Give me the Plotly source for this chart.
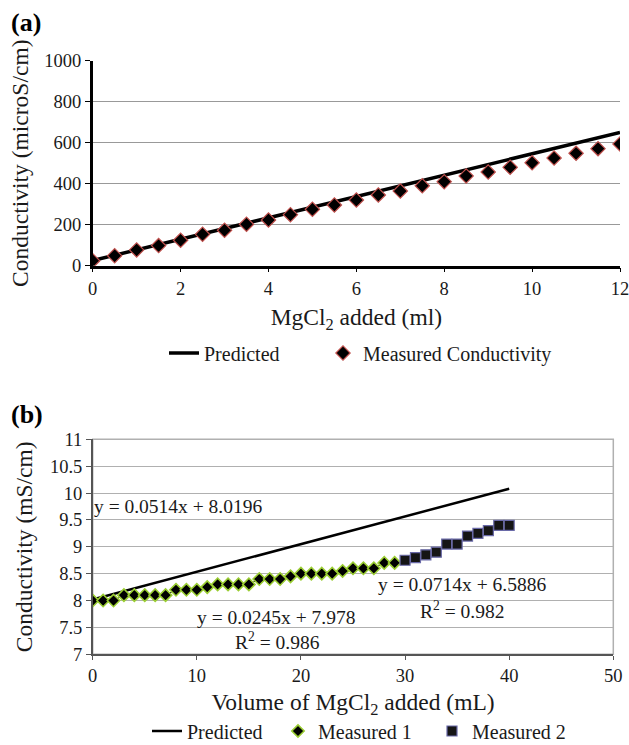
import plotly.graph_objects as go

# Panel (a) data
a_x = [0, 0.5, 1, 1.5, 2, 2.5, 3, 3.5, 4, 4.5, 5, 5.5, 6, 6.5, 7, 7.5, 8, 8.5, 9, 9.5, 10, 10.5, 11, 11.5, 12]
a_measured = [24, 49, 77, 98, 124, 153, 173, 202, 223, 249, 275, 296, 320, 345, 364, 390, 410, 438, 457, 480, 502, 525, 548, 571, 594]
a_pred_x = [0, 12]
a_pred_y = [25, 650]

# Panel (b) data
b1_x = list(range(0, 30))
b1_y = [8.0, 8.0, 8.0, 8.1, 8.1, 8.1, 8.1, 8.1, 8.2, 8.2, 8.2, 8.25, 8.3, 8.3, 8.3, 8.3,
        8.4, 8.4, 8.4, 8.45, 8.5, 8.5, 8.5, 8.5, 8.55, 8.6, 8.6, 8.6, 8.7, 8.7]
b2_x = list(range(30, 41))
b2_y = [8.75, 8.8, 8.85, 8.9, 9.05, 9.05, 9.2, 9.25, 9.3, 9.4, 9.4]
b_pred_x = [0, 40]
b_pred_y = [8.02, 10.08]

a_yticks = [0, 200, 400, 600, 800, 1000]
a_xticks = [0, 2, 4, 6, 8, 10, 12]
b_yticks = [7, 7.5, 8, 8.5, 9, 9.5, 10, 10.5, 11]
b_xticks = [0, 10, 20, 30, 40, 50]

FONT = "Liberation Serif, Times New Roman, serif"
W, H = 629, 745
TXT = "#1a1a1a"

def px_x(p):
    return p / W

def px_y(p):
    return (H - p) / H

fig = go.Figure()

fig.add_trace(go.Scatter(x=a_pred_x, y=a_pred_y, mode="lines", name="Predicted",
                         line=dict(color="black", width=3.5), xaxis="x", yaxis="y", legend="legend"))
fig.add_trace(go.Scatter(x=a_x, y=a_measured, mode="markers", name="Measured Conductivity",
                         marker=dict(symbol="diamond", size=11, color="black",
                                     line=dict(color="#c0504d", width=1.2)),
                         xaxis="x", yaxis="y", legend="legend2"))

fig.add_trace(go.Scatter(x=b_pred_x, y=b_pred_y, mode="lines", name="Predicted",
                         line=dict(color="black", width=2.5), xaxis="x2", yaxis="y2", legend="legend3"))
fig.add_trace(go.Scatter(x=b1_x, y=b1_y, mode="lines", showlegend=False, hoverinfo="skip",
                         line=dict(color="black", width=1), xaxis="x2", yaxis="y2"))
fig.add_trace(go.Scatter(x=b1_x, y=b1_y, mode="markers", name="Measured 1",
                         marker=dict(symbol="diamond", size=9.5, color="black",
                                     line=dict(color="#9acd32", width=1.6)),
                         xaxis="x2", yaxis="y2", legend="legend4"))
fig.add_trace(go.Scatter(x=b2_x, y=b2_y, mode="markers", name="Measured 2",
                         marker=dict(symbol="square", size=10, color="#151515",
                                     line=dict(color="#6a6aa8", width=1.2)),
                         xaxis="x2", yaxis="y2", legend="legend5"))

tickfont = dict(family=FONT, size=18.5, color=TXT)
titlefont = dict(family=FONT, size=23.5, color=TXT)
legfont = dict(family=FONT, size=20, color=TXT)

def leg(xpx, ypx):
    return dict(orientation="h", x=px_x(xpx), xanchor="left", y=px_y(ypx), yanchor="middle",
                font=legfont, bgcolor="rgba(0,0,0,0)", borderwidth=0, itemwidth=30)

fig.update_layout(
    width=W, height=H, margin=dict(l=0, r=0, t=0, b=0, autoexpand=False),
    paper_bgcolor="white", plot_bgcolor="white",
    font=dict(family=FONT, color=TXT),
    xaxis=dict(domain=[px_x(92.7), px_x(620)], range=[0, 12], tickvals=a_xticks,
               showgrid=False, zeroline=False, showline=True, linecolor="black", linewidth=2.5,
               ticks="outside", ticklen=4, tickcolor="black", tickfont=tickfont, automargin=False,
               ticklabeloverflow="allow",
               title=dict(text="MgCl<sub>2</sub> added (ml)", font=titlefont, standoff=11),
               anchor="y"),
    yaxis=dict(domain=[px_y(265.7), px_y(60.7)], range=[0, 1000], tickvals=a_yticks,
               showgrid=True, gridcolor="#999999", gridwidth=1.2, zeroline=False,
               showline=True, linecolor="black", linewidth=2.5, automargin=False,
               ticks="outside", ticklen=5, tickcolor="black", tickfont=tickfont,
               title=dict(text="Conductivity (microS/cm)", font=titlefont, standoff=10),
               anchor="x"),
    xaxis2=dict(domain=[px_x(92.7), px_x(613.3)], range=[0, 50], tickvals=b_xticks,
                showgrid=False, zeroline=False, showline=True, linecolor="#555", linewidth=1.5,
                ticks="outside", ticklen=4, tickcolor="#555", tickfont=tickfont, automargin=False,
                ticklabeloverflow="allow",
                title=dict(text="Volume of MgCl<sub>2</sub> added (mL)", font=titlefont, standoff=8),
                anchor="y2"),
    yaxis2=dict(domain=[px_y(654.3), px_y(439.3)], range=[7, 11], tickvals=b_yticks,
                ticktext=["7", "7.5", "8", "8.5", "9", "9.5", "10", "10.5", "11"],
                showgrid=True, gridcolor="#b0b0b0", gridwidth=1, zeroline=False,
                showline=True, linecolor="#555", linewidth=1.5, automargin=False,
                ticks="outside", ticklen=5, tickcolor="#555", tickfont=tickfont,
                title=dict(text="Conductivity (mS/cm)", font=titlefont, standoff=11),
                anchor="x2"),
    legend=leg(164, 353),
    legend2=leg(323, 353),
    legend3=leg(147, 731),
    legend4=leg(278, 731),
    legend5=leg(432, 731),
    showlegend=True,
)

fig.add_shape(type="rect", xref="x2 domain", yref="y2 domain", x0=0, x1=1, y0=0, y1=1,
              line=dict(color="#b0b0b0", width=1.5), layer="below")

for t, x, y in [("<b>(a)</b>", 9, 22), ("<b>(b)</b>", 9, 414)]:
    fig.add_annotation(text=t, x=px_x(x), y=px_y(y), xref="paper", yref="paper",
                       xanchor="left", yanchor="middle", showarrow=False,
                       font=dict(family=FONT, size=26, color="black"))

eq = [
    ("y = 0.0514x + 8.0196", 92, 506, "left"),
    ("y = 0.0245x + 7.978", 276, 617, "center"),
    ("R<sup>2</sup> = 0.986", 277, 641, "center"),
    ("y = 0.0714x + 6.5886", 462, 584, "center"),
    ("R<sup>2</sup> = 0.982", 462, 610, "center"),
]
for t, x, y, xa in eq:
    fig.add_annotation(text=t, x=px_x(x), y=px_y(y), xref="paper", yref="paper",
                       xanchor=xa, yanchor="middle", showarrow=False,
                       font=dict(family=FONT, size=19.5, color=TXT))

fig.write_html("out.html", config={"displayModeBar": False},
               post_script="document.body.style.margin='0';")
